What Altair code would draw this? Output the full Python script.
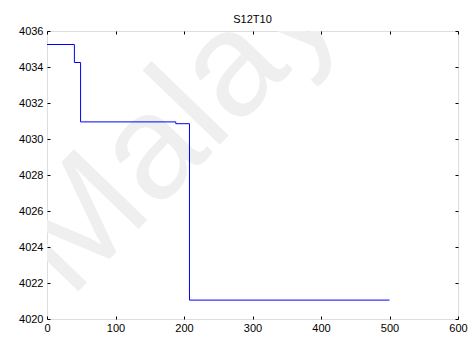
import altair as alt
import pandas as pd

# Data
xs = [0, 40, 49, 188, 208, 500]
ys = [4035.25, 4034.25, 4030.95, 4030.85, 4021.05, 4021.05]
x_ticks = [0, 100, 200, 300, 400, 500, 600]
y_ticks = [4020, 4022, 4024, 4026, 4028, 4030, 4032, 4034, 4036]
title_text = "S12T10"
watermark = ["Malaya"]

df = pd.DataFrame({"x": xs, "y": ys})
wm = pd.DataFrame({"t": watermark})

FONT = "Liberation Sans"
xscale = alt.Scale(domain=[0, 600], nice=False, zero=False)
yscale = alt.Scale(domain=[4020, 4036], nice=False, zero=False)

common_axis = dict(
    grid=False, domain=False, tickColor="black", tickSize=3, tickWidth=1,
    offset=-3, labelFont=FONT, labelFontSize=11, labelColor="black", zindex=1,
    labelFlush=False, labelOverlap=False,
)

water = alt.Chart(wm).mark_text(
    font=FONT, fontSize=148, color="#efefef", angle=314,
    align="left", baseline="alphabetic", clip=True,
).encode(text="t:N", x=alt.value(23), y=alt.value(269))

line_bottom = alt.Chart(df).mark_line(
    interpolate="step-after", color="#0000ff", strokeWidth=1
).encode(
    x=alt.X("x:Q", scale=xscale, title=None,
            axis=alt.Axis(orient="bottom", values=x_ticks, labelPadding=3, **common_axis)),
    y=alt.Y("y:Q", scale=yscale, title=None,
            axis=alt.Axis(orient="left", values=y_ticks, labelPadding=4, format="d", **common_axis)),
)

line_top = alt.Chart(df).mark_line(opacity=0).encode(
    x=alt.X("x:Q", scale=xscale, title=None,
            axis=alt.Axis(orient="top", values=x_ticks, labels=False, **common_axis)),
    y=alt.Y("y:Q", scale=yscale, title=None,
            axis=alt.Axis(orient="right", values=y_ticks, labels=False, **common_axis)),
)

chart = alt.layer(water, line_bottom, line_top).properties(
    width=411, height=288,
    autosize=alt.AutoSizeParams(type="none"),
    padding={"left": 47, "top": 31, "right": 12, "bottom": 19},
    title=alt.Title(title_text, font=FONT, fontSize=11, fontWeight="normal",
                    color="black", offset=0),
).configure_view(stroke="black", strokeWidth=1.5).configure(background="white")

chart.save("out.html", embed_options={"renderer": "svg", "actions": False})
